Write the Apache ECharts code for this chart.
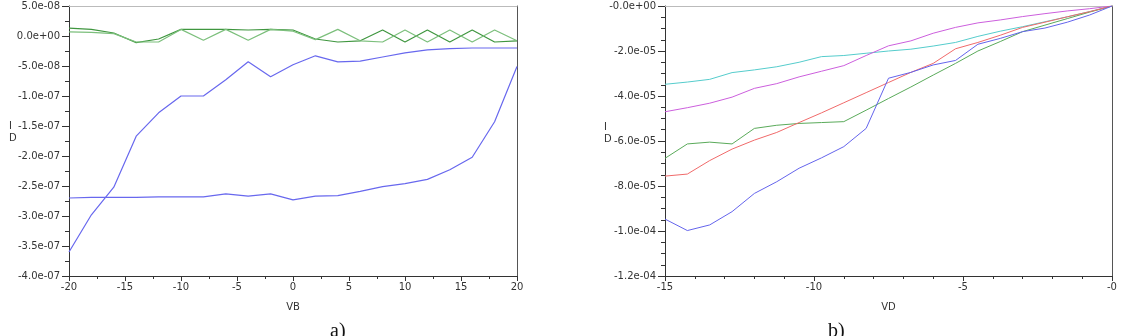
<!DOCTYPE html>
<html>
<head>
<meta charset="utf-8">
<script src="https://cdn.jsdelivr.net/npm/echarts@6/dist/echarts.min.js"></script>
<style>
html, body { margin: 0; padding: 0; background: #fff; }
#chart { width: 1143px; height: 336px; }
</style>
</head>
<body>
<div id="chart"></div>
<script>
// a) ID vs VB, values in units of 1e-7
const vb = [-20, -18, -16, -14, -12, -10, -8, -6, -4, -2, 0, 2, 4, 6, 8, 10, 12, 14, 16, 18, 20]
const blueRise = [-3.60, -2.98, -2.52, -1.67, -1.28, -1.00, -1.00, -0.73, -0.43, -0.68, -0.48, -0.33, -0.43, -0.42, -0.35, -0.28, -0.23, -0.21, -0.20, -0.20, -0.20]
const blueFlat = [-2.70, -2.69, -2.69, -2.69, -2.68, -2.68, -2.68, -2.63, -2.67, -2.63, -2.73, -2.67, -2.66, -2.59, -2.51, -2.46, -2.39, -2.23, -2.02, -1.43, -0.51]
const greenA = [0.13, 0.11, 0.05, -0.11, -0.05, 0.11, 0.11, 0.11, 0.10, 0.11, 0.10, -0.05, -0.10, -0.08, 0.10, -0.10, 0.10, -0.10, 0.10, -0.10, -0.08]
const greenB = [0.07, 0.06, 0.04, -0.10, -0.10, 0.11, -0.07, 0.11, -0.07, 0.11, 0.08, -0.06, 0.11, -0.08, -0.10, 0.10, -0.10, 0.10, -0.10, 0.10, -0.08]

// b) ID vs VD, values in units of 1e-5
const vd = [-15, -14.25, -13.5, -12.75, -12, -11.25, -10.5, -9.75, -9, -8.25, -7.5, -6.75, -6, -5.25, -4.5, -3.75, -3, -2.25, -1.5, -0.75, 0]
const idBlue = [-9.47, -9.98, -9.73, -9.14, -8.33, -7.81, -7.21, -6.75, -6.25, -5.44, -3.21, -2.95, -2.62, -2.42, -1.70, -1.44, -1.14, -0.98, -0.72, -0.40, 0]
const idRed = [-7.56, -7.47, -6.87, -6.36, -5.96, -5.62, -5.18, -4.75, -4.30, -3.85, -3.40, -2.95, -2.55, -1.90, -1.62, -1.30, -0.95, -0.72, -0.48, -0.25, 0]
const idGreen = [-6.77, -6.13, -6.05, -6.13, -5.44, -5.30, -5.22, -5.18, -5.14, -4.63, -4.11, -3.60, -3.07, -2.55, -2.00, -1.58, -1.14, -0.85, -0.56, -0.27, 0]
const idCyan = [-3.48, -3.38, -3.26, -2.96, -2.84, -2.70, -2.50, -2.25, -2.20, -2.10, -2.00, -1.92, -1.78, -1.62, -1.35, -1.12, -0.92, -0.70, -0.48, -0.25, 0]
const idMagenta = [-4.70, -4.52, -4.32, -4.05, -3.66, -3.45, -3.15, -2.90, -2.65, -2.20, -1.77, -1.55, -1.21, -0.95, -0.75, -0.62, -0.47, -0.34, -0.22, -0.12, 0]

function pairs (xs, ys, scale) {
  return xs.map((x, i) => [x, ys[i] * scale])
}

function sci (v, negZero) {
  if (Math.abs(v) < 1e-15) return negZero ? '-0.0e+00' : '0.0e+00'
  const p = v.toExponential(1).split('e')
  const e = parseInt(p[1], 10)
  return p[0] + 'e' + (e < 0 ? '-' : '+') + (Math.abs(e) < 10 ? '0' : '') + Math.abs(e)
}

const labelFont = { fontFamily: 'DejaVu Sans', fontSize: 10, color: '#333' }
const axisDark = { onZero: false, lineStyle: { color: '#333', width: 1 } }

function bottomAxis (grid, min, max, interval, split, fmt, name) {
  return {
    type: 'value', gridIndex: grid, min: min, max: max, interval: interval,
    position: 'bottom',
    name: name, nameLocation: 'middle', nameGap: 26, nameMoveOverlap: false,
    nameTextStyle: labelFont,
    axisLine: axisDark,
    axisTick: { length: 5, lineStyle: { color: '#333' } },
    minorTick: { show: true, splitNumber: split, length: 3, lineStyle: { color: '#333' } },
    axisLabel: Object.assign({ margin: 6, formatter: fmt }, labelFont),
    splitLine: { show: false }
  }
}

function leftAxis (grid, min, max, interval, split, fmt) {
  return {
    type: 'value', gridIndex: grid, min: min, max: max, interval: interval,
    position: 'left',
    axisLine: axisDark,
    axisTick: { length: 7, lineStyle: { color: '#333' } },
    minorTick: { show: true, splitNumber: split, length: 4, lineStyle: { color: '#333' } },
    axisLabel: Object.assign({ margin: 9, formatter: fmt }, labelFont),
    splitLine: { show: false }
  }
}

function frameX (grid, min, max) {
  return {
    type: 'value', gridIndex: grid, min: min, max: max, position: 'top',
    axisLine: { onZero: false, lineStyle: { color: '#bbb' } },
    axisTick: { show: false }, axisLabel: { show: false }, splitLine: { show: false }
  }
}

function frameY (grid, min, max) {
  return {
    type: 'value', gridIndex: grid, min: min, max: max, position: 'right',
    axisLine: { onZero: false, lineStyle: { color: '#555' } },
    axisTick: { show: false }, axisLabel: { show: false }, splitLine: { show: false }
  }
}

function line (name, data, color, xi, yi, width) {
  return {
    name: name, type: 'line', data: data, xAxisIndex: xi, yAxisIndex: yi,
    showSymbol: false, animation: false,
    lineStyle: { color: color, width: width || 1 }
  }
}

// y axis title "I D" (stacked letters, as in the original plot)
function yName (left, top) {
  return {
    type: 'text', left: left, top: top,
    style: { text: 'I\nD', font: '10px "DejaVu Sans"', lineHeight: 12, fill: '#333' }
  }
}

const myChart = echarts.init(document.getElementById('chart'))
const option = {
  backgroundColor: '#fff',
  animation: false,
  grid: [
    { left: 69, top: 6, width: 448, height: 270 },
    { left: 665, top: 6, width: 447, height: 270 }
  ],
  xAxis: [
    bottomAxis(0, -20, 20, 5, 2, v => String(v), 'VB'),
    bottomAxis(1, -15, 0, 5, 5, v => (v === 0 ? '-0' : String(v)), 'VD'),
    frameX(0, -20, 20),
    frameX(1, -15, 0)
  ],
  yAxis: [
    leftAxis(0, -4e-7, 5e-8, 5e-8, 2, v => sci(v, false)),
    leftAxis(1, -1.2e-4, 0, 2e-5, 4, v => sci(v, true)),
    frameY(0, -4e-7, 5e-8),
    frameY(1, -1.2e-4, 0)
  ],
  series: [
    line('greenA', pairs(vb, greenA, 1e-7), '#3f963f', 0, 0, 1.2),
    line('greenB', pairs(vb, greenB, 1e-7), '#7cbf7c', 0, 0, 1.2),
    line('blueRise', pairs(vb, blueRise, 1e-7), '#6868ee', 0, 0, 1.2),
    line('blueFlat', pairs(vb, blueFlat, 1e-7), '#6868ee', 0, 0, 1.2),
    line('cyan', pairs(vd, idCyan, 1e-5), '#55cccc', 1, 1),
    line('magenta', pairs(vd, idMagenta, 1e-5), '#cc5fdd', 1, 1),
    line('green', pairs(vd, idGreen, 1e-5), '#5aaa5a', 1, 1),
    line('red', pairs(vd, idRed, 1e-5), '#f06a6a', 1, 1),
    line('blue', pairs(vd, idBlue, 1e-5), '#6464ec', 1, 1)
  ],
  graphic: [
    yName(9, 120),
    yName(604, 121),
    { type: 'text', left: 330, top: 322, style: { text: 'a)', font: '20px "Liberation Serif"', fill: '#111' } },
    { type: 'text', left: 828, top: 322, style: { text: 'b)', font: '20px "Liberation Serif"', fill: '#111' } }
  ]
}
myChart.setOption(option)
</script>
</body>
</html>
